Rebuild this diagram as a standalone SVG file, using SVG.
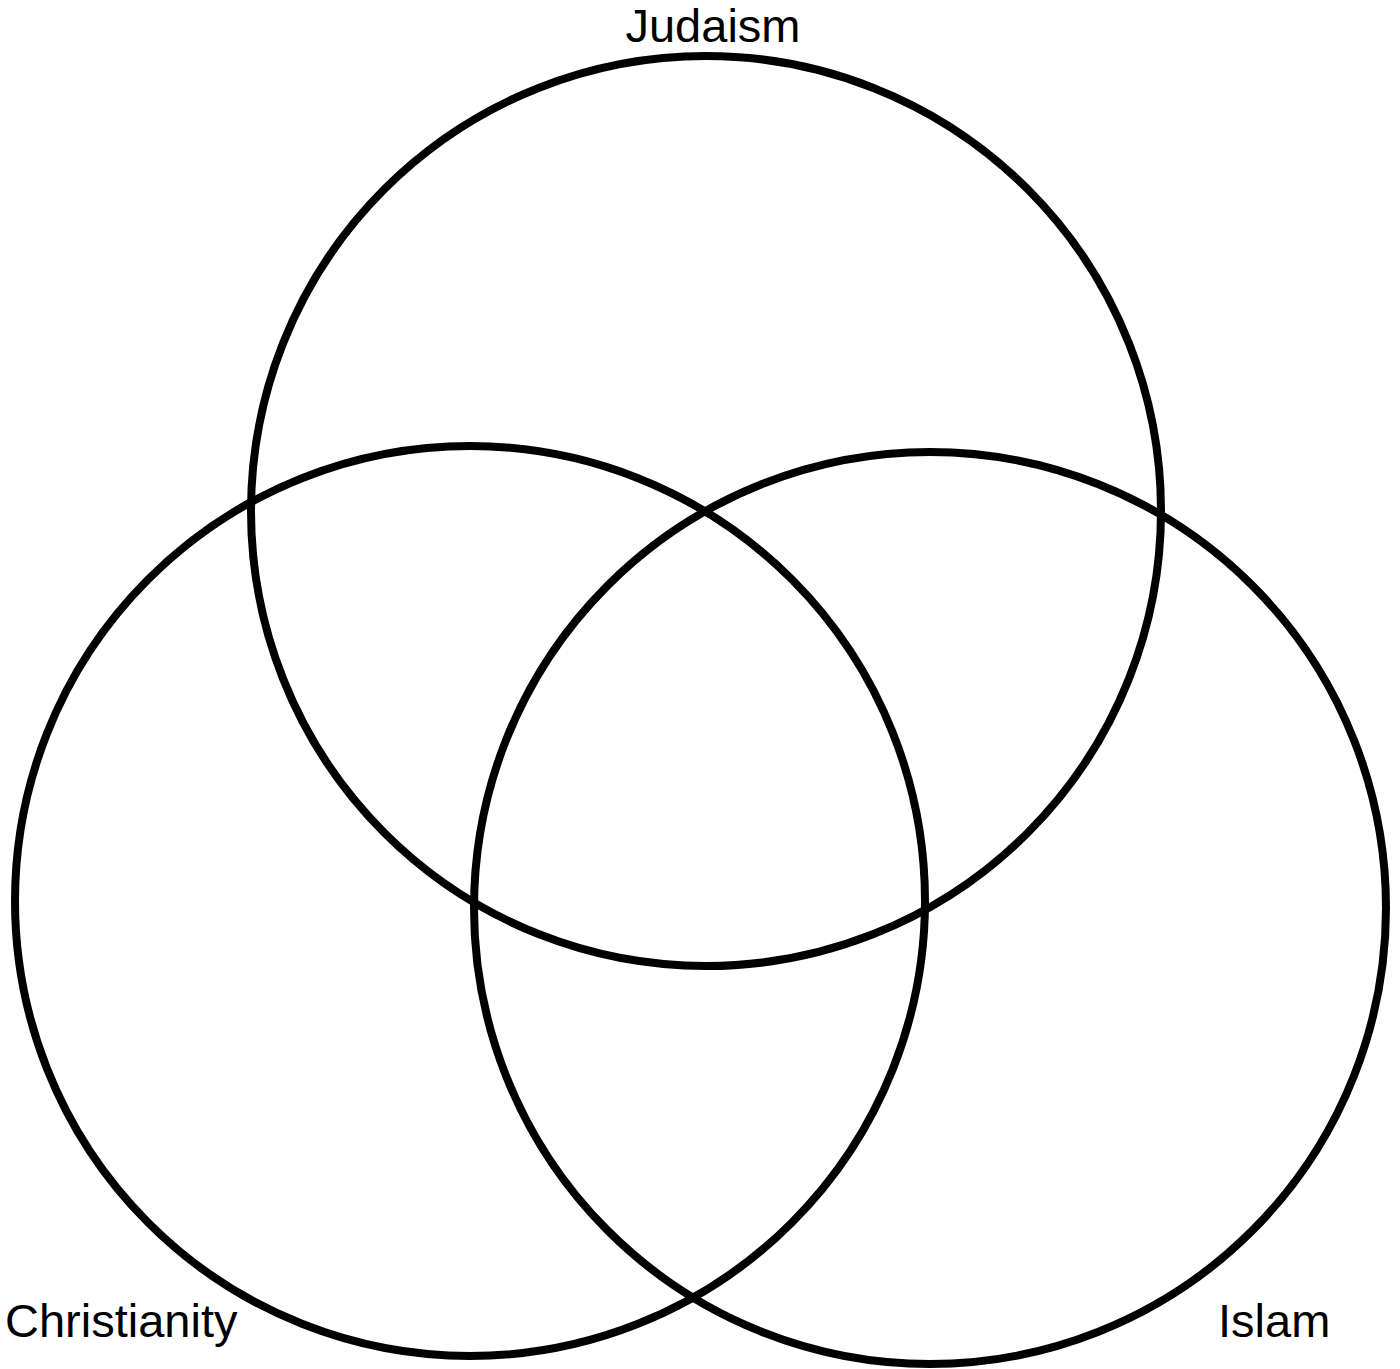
<svg xmlns="http://www.w3.org/2000/svg" width="1400" height="1369" viewBox="0 0 1400 1369">
<style>
.c{fill:none;stroke:#000;stroke-width:8}
.t{font-family:"Liberation Sans",Arial,sans-serif;font-size:47px;fill:#000}
</style>
<rect width="1400" height="1369" fill="#fff"/>
<g id="judaism"><circle class="c" cx="706" cy="511" r="455"/><text class="t" x="713" y="42" text-anchor="middle">Judaism</text></g>
<g id="christianity"><circle class="c" cx="470" cy="901" r="455"/><text class="t" x="5" y="1337">Christianity</text></g>
<g id="islam"><circle class="c" cx="930" cy="908" r="456"/><text class="t" x="1218" y="1337">Islam</text></g>
<g id="connectors"></g>
</svg>
